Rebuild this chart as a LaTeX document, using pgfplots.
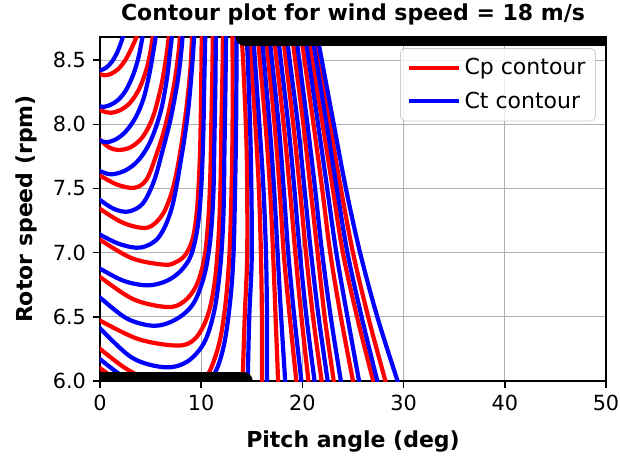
\documentclass[border=0pt]{standalone}
\usepackage{fontspec}
\setmainfont{DejaVu Sans}
\usepackage{pgfplots}
\pgfplotsset{compat=1.18}
\pgfplotsset{
  cp/.style={color=red, line width=2.1bp, smooth, tension=0.55, mark=none},
  ct/.style={color=blue, line width=2.1bp, smooth, tension=0.55, mark=none},
}
\begin{document}
\begin{tikzpicture}
\path[use as bounding box] (-50bp,-39bp) rectangle (260bp,190.5bp);
\begin{axis}[
  at={(0,0)}, anchor=south west,
  scale only axis, width=253bp, height=172bp,
  xmin=0, xmax=50, ymin=6, ymax=8.68,
  xtick={0,10,20,30,40,50},
  ytick={6.0,6.5,7.0,7.5,8.0,8.5},
  yticklabel style={/pgf/number format/.cd, fixed, fixed zerofill, precision=1},
  /pgf/number format/assume math mode=true,
  tick label style={font=\fontsize{10.4bp}{12bp}\selectfont},
  tick pos=left, tick align=outside, major tick length=3.5bp,
  tick style={black, line width=0.75bp},
  axis line style={black, line width=0.75bp},
  grid=major, major grid style={color=black!31, line width=0.6bp},
  every axis title shift=0pt,
  title={Contour plot for wind speed = 18 m/s},
  title style={at={(axis description cs:0.5,1.0669)}, anchor=center, font=\bfseries\fontsize{11bp}{13bp}\selectfont},
  xlabel={Pitch angle (deg)},
  xlabel style={at={(axis description cs:0.5,-0.175)}, anchor=center, font=\bfseries\fontsize{11bp}{13bp}\selectfont},
  ylabel={Rotor speed (rpm)},
  ylabel style={at={(axis description cs:-0.1462,0.5)}, anchor=center, font=\bfseries\fontsize{11bp}{13bp}\selectfont},
  legend style={at={(0.98,0.968)}, anchor=north east, draw=black!20, rounded corners=2.5bp,
    fill=white, fill opacity=0.8, text opacity=1, font=\fontsize{11bp}{13bp}\selectfont,
    inner xsep=3bp, inner ysep=3bp, row sep=3bp, cells={anchor=west}},
  legend image code/.code={\draw[#1] (0bp,0bp) -- (25bp,0bp);},
]
% ---------------- Cp contours (red) ----------------
\addplot[cp] coordinates {(-0.3,8.40) (0,8.39) (0.4,8.382) (1.0,8.39) (1.8,8.43) (2.5,8.50) (3.1,8.59) (3.6,8.68) (3.75,8.73)};
\addplot[cp,forget plot] coordinates {(-0.3,8.12) (0,8.11) (0.5,8.097) (1.1,8.09) (2.0,8.11) (3.0,8.17) (3.9,8.28) (4.6,8.43) (5.0,8.57) (5.2,8.68) (5.3,8.75)};
\addplot[cp,forget plot] coordinates {(-0.3,7.90) (0,7.88) (0.9,7.82) (1.8,7.80) (3.0,7.82) (4.2,7.90) (5.2,8.05) (6.0,8.28) (6.5,8.5) (6.8,8.68) (6.9,8.75)};
\addplot[cp,forget plot] coordinates {(-0.3,7.615) (0,7.60) (1.7,7.53) (3.4,7.505) (4.6,7.57) (5.6,7.77) (6.5,8.0) (7.3,8.3) (7.75,8.55) (7.9,8.68) (7.95,8.75)};
\addplot[cp,forget plot] coordinates {(-0.3,7.355) (0,7.34) (2.35,7.23) (4.7,7.195) (6.2,7.3) (7.2,7.5) (7.9,7.77) (8.5,8.1) (8.9,8.4) (9.05,8.6) (9.1,8.68) (9.12,8.75)};
\addplot[cp,forget plot] coordinates {(-0.3,7.12) (0,7.10) (3.2,6.955) (6.4,6.906) (7.6,6.93) (8.5,6.99) (9.2,7.12) (9.6,7.35) (9.85,7.7) (9.97,8.1) (10.05,8.68) (10.08,8.75)};
\addplot[cp,forget plot] coordinates {(-0.3,6.83) (0,6.81) (3.35,6.635) (6.7,6.576) (8.3,6.62) (9.5,6.74) (10.3,6.95) (10.7,7.25) (10.9,7.6) (11.0,8.0) (11.1,8.4) (11.15,8.68) (11.17,8.75)};
\addplot[cp,forget plot] coordinates {(-0.3,6.485) (0,6.47) (3.85,6.325) (7.7,6.276) (9.4,6.33) (10.6,6.5) (11.3,6.75) (11.7,7.1) (11.9,7.5) (12.0,8.0) (12.1,8.4) (12.15,8.68) (12.17,8.75)};
\addplot[cp,forget plot] coordinates {(-0.3,6.27) (0,6.25) (2.5,6.10) (5,6.0) (7.5,5.95) (9.8,5.99) (10.8,6.07) (11.8,6.3) (12.4,6.6) (12.8,7.0) (13.0,7.5) (13.1,8.0) (13.1,8.68) (13.1,8.75)};
\addplot[cp,forget plot] coordinates {(-0.3,6.115) (0,6.10) (1.5,6.02) (3,5.97) (4.5,5.94)};
\addplot[cp,forget plot] coordinates {(14.1,5.9) (14.1,6.0) (14.3,6.5) (14.55,7.0) (14.5,7.77) (14.2,8.4) (14.0,8.68) (13.95,8.75)};
\addplot[cp,forget plot] coordinates {(14.75,8.75) (14.8,8.68) (15.35,8.0) (15.7,7.5) (15.9,7.0) (16.0,6.5) (16.0,6.0) (16.0,5.9)};
\addplot[cp,forget plot] coordinates {(15.55,8.75) (15.6,8.68) (16.35,8.0) (16.8,7.5) (17.1,7.0) (17.35,6.5) (17.6,6.0) (17.65,5.9)};
\addplot[cp,forget plot] coordinates {(16.35,8.75) (16.4,8.68) (17.25,8.0) (17.75,7.5) (18.15,7.0) (18.75,6.5) (19.4,6.0) (19.53,5.9)};
\addplot[cp,forget plot] coordinates {(17.15,8.75) (17.2,8.68) (18.15,8.0) (18.75,7.5) (19.3,7.0) (19.9,6.5) (20.6,6.0) (20.74,5.9)};
\addplot[cp,forget plot] coordinates {(18.05,8.75) (18.1,8.68) (19.1,8.0) (19.75,7.5) (20.35,7.0) (21.05,6.5) (21.9,6.0) (22.07,5.9)};
\addplot[cp,forget plot] coordinates {(18.95,8.75) (19.0,8.68) (20.1,8.0) (20.8,7.5) (21.5,7.0) (22.2,6.5) (23.1,6.0) (23.28,5.9)};
\addplot[cp,forget plot] coordinates {(19.85,8.75) (19.9,8.68) (21.1,8.0) (21.95,7.5) (22.75,7.0) (23.8,6.5) (25.0,6.0) (25.24,5.9)};
\addplot[cp,forget plot] coordinates {(20.55,8.75) (20.6,8.68) (22.0,8.0) (23.0,7.5) (24.0,7.0) (25.4,6.5) (27.0,6.0) (27.32,5.9)};
\addplot[cp,forget plot] coordinates {(21.1,8.75) (21.15,8.68) (22.7,8.0) (23.8,7.5) (25.0,7.0) (26.5,6.5) (28.2,6.0) (28.54,5.9)};
% ---------------- Ct contours (blue) ----------------
\addplot[ct] coordinates {(-0.3,8.418) (0,8.42) (0.6,8.44) (1.2,8.49) (1.7,8.56) (2.05,8.63) (2.25,8.68) (2.35,8.72)};
\addplot[ct,forget plot] coordinates {(-0.3,8.14) (0,8.14) (0.3,8.135) (1.0,8.15) (1.8,8.19) (2.6,8.27) (3.3,8.39) (3.8,8.52) (4.2,8.68) (4.35,8.75)};
\addplot[ct,forget plot] coordinates {(-0.3,7.88) (0,7.875) (0.6,7.86) (1.5,7.88) (2.5,7.94) (3.5,8.05) (4.3,8.2) (4.9,8.4) (5.3,8.58) (5.5,8.68) (5.6,8.75)};
\addplot[ct,forget plot] coordinates {(-0.3,7.645) (0,7.635) (1.1,7.61) (2.5,7.64) (3.8,7.72) (5.0,7.87) (6.0,8.1) (6.6,8.35) (6.95,8.58) (7.1,8.68) (7.15,8.75)};
\addplot[ct,forget plot] coordinates {(-0.3,7.43) (0,7.41) (1.4,7.34) (2.8,7.32) (4.2,7.38) (5.3,7.55) (6.1,7.77) (7.0,8.05) (7.7,8.35) (8.05,8.58) (8.15,8.68) (8.2,8.75)};
\addplot[ct,forget plot] coordinates {(-0.3,7.155) (0,7.14) (2.0,7.065) (4.05,7.04) (5.8,7.12) (7.1,7.35) (8.1,7.77) (8.7,8.1) (9.1,8.45) (9.3,8.68) (9.32,8.75)};
\addplot[ct,forget plot] coordinates {(-0.3,6.89) (0,6.875) (2.35,6.78) (4.7,6.745) (6.6,6.78) (8.0,6.86) (9.0,6.98) (9.65,7.2) (10.0,7.5) (10.2,7.9) (10.3,8.3) (10.4,8.68) (10.42,8.75)};
\addplot[ct,forget plot] coordinates {(-0.3,6.675) (0,6.65) (2.7,6.485) (5.4,6.43) (7.5,6.48) (9.2,6.6) (10.3,6.82) (10.9,7.1) (11.2,7.45) (11.3,7.85) (11.4,8.3) (11.45,8.68) (11.47,8.75)};
\addplot[ct,forget plot] coordinates {(-0.3,6.435) (0,6.41) (3.2,6.18) (6.4,6.107) (8.6,6.15) (10.3,6.3) (11.3,6.55) (11.9,6.9) (12.2,7.3) (12.3,7.8) (12.4,8.3) (12.45,8.68) (12.47,8.75)};
\addplot[ct,forget plot] coordinates {(-0.3,6.19) (0,6.17) (2,6.05) (4,5.97) (7,5.92) (10,5.95) (11.4,6.07) (12.3,6.3) (12.9,6.65) (13.2,7.0) (13.35,7.5) (13.45,8.0) (13.5,8.68) (13.5,8.75)};
\addplot[ct,forget plot] coordinates {(-0.3,6.06) (0,6.05) (1.5,5.98) (3,5.94)};
\addplot[ct,forget plot] coordinates {(14.6,5.9) (14.6,6.0) (14.75,6.5) (15.0,7.0) (14.9,7.77) (14.65,8.4) (14.5,8.68) (14.45,8.75)};
\addplot[ct,forget plot] coordinates {(15.1,8.75) (15.15,8.68) (15.75,8.0) (16.15,7.5) (16.4,7.0) (16.5,6.5) (16.5,6.0) (16.5,5.9)};
\addplot[ct,forget plot] coordinates {(15.95,8.75) (16.0,8.68) (16.75,8.0) (17.2,7.5) (17.55,7.0) (17.9,6.5) (18.3,6.0) (18.38,5.9)};
\addplot[ct,forget plot] coordinates {(16.7,8.75) (16.75,8.68) (17.65,8.0) (18.15,7.5) (18.6,7.0) (19.2,6.5) (19.9,6.0) (20.04,5.9)};
\addplot[ct,forget plot] coordinates {(17.55,8.75) (17.6,8.68) (18.6,8.0) (19.2,7.5) (19.75,7.0) (20.4,6.5) (21.2,6.0) (21.36,5.9)};
\addplot[ct,forget plot] coordinates {(18.4,8.75) (18.45,8.68) (19.55,8.0) (20.2,7.5) (20.85,7.0) (21.6,6.5) (22.5,6.0) (22.68,5.9)};
\addplot[ct,forget plot] coordinates {(19.35,8.75) (19.4,8.68) (20.5,8.0) (21.25,7.5) (21.95,7.0) (22.8,6.5) (23.8,6.0) (24.0,5.9)};
\addplot[ct,forget plot] coordinates {(20.25,8.75) (20.3,8.68) (21.55,8.0) (22.45,7.5) (23.35,7.0) (24.45,6.5) (25.6,6.0) (25.83,5.9)};
\addplot[ct,forget plot] coordinates {(20.95,8.75) (21.0,8.68) (22.4,8.0) (23.4,7.5) (24.45,7.0) (25.85,6.5) (27.4,6.0) (27.71,5.9)};
\addplot[ct,forget plot] coordinates {(21.45,8.75) (21.5,8.68) (23.1,8.0) (24.3,7.5) (25.7,7.0) (27.4,6.5) (29.4,6.0) (29.8,5.9)};
% ---------------- thick black boundary contours ----------------
\addplot[black, line width=9bp, line cap=round, mark=none, forget plot] coordinates {(-1,6.0) (14.2,6.0)};
\addplot[black, line width=9bp, line cap=round, mark=none, forget plot] coordinates {(14.3,8.68) (52,8.68)};
\legend{Cp contour, Ct contour}
\end{axis}
\end{tikzpicture}
\end{document}
